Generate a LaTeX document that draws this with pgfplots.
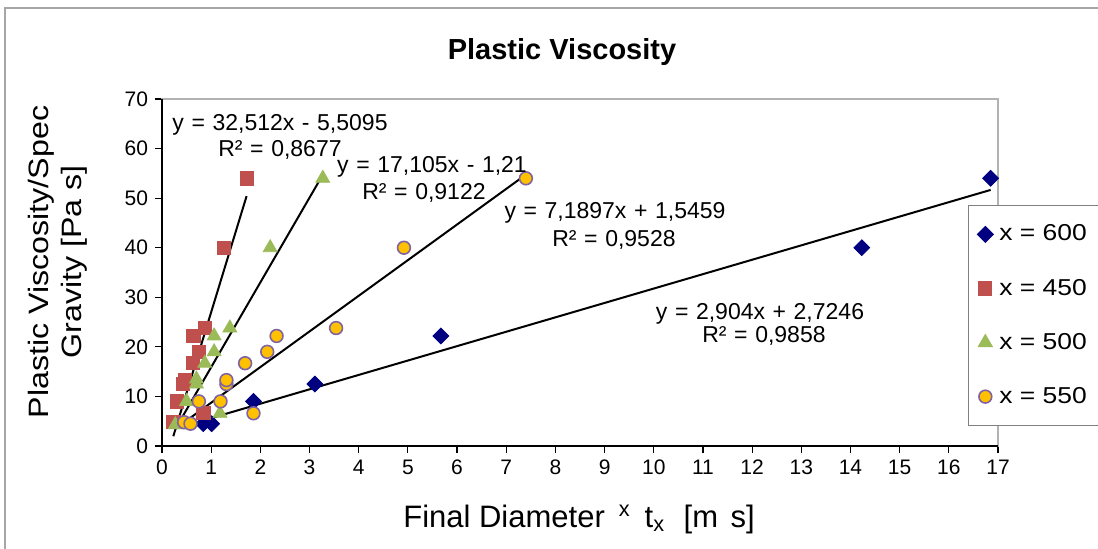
\documentclass[border=0pt]{standalone}
\usepackage{fontspec}
\setmainfont{Liberation Sans}
\newfontfamily\widefont[FakeStretch=1.15]{Liberation Sans}
\newfontfamily\legfont[FakeStretch=1.15]{Liberation Sans}
\usepackage{pgfplots}
\pgfplotsset{compat=1.18}

\definecolor{sixh}{RGB}{0,0,128}
\definecolor{fourfifty}{HTML}{C0504D}
\definecolor{fivehund}{HTML}{9BBB59}
\definecolor{fivefifty}{HTML}{FFC000}
\definecolor{ringpurple}{HTML}{8064A2}

% trendline label font: slightly wider spaces like the original
\newcommand\tlfont{\fontsize{11.5}{13}\selectfont\spaceskip=0.33em plus 0.1em\relax}

\begin{document}
\begin{tikzpicture}
\begin{axis}[
    at={(0pt,0pt)}, anchor=south west,
    scale only axis,
    width=418pt, height=173.5pt,
    xmin=0, xmax=17, ymin=0, ymax=70,
    xtick={0,1,...,17}, ytick={0,10,...,70},
    tick pos=left, tick align=outside,
    major tick length=3.5pt,
    tick style={black, line width=0.6pt},
    axis line style={draw=gray!60, line width=1pt},
    ticklabel style={font=\fontsize{10.5}{12}\selectfont},
    /pgf/number format/assume math mode=true,
    legend cell align=left,
    legend style={at={(0.964,0.6945)}, anchor=north west, draw=gray,
        line width=0.5pt, font=\legfont\fontsize{11.5}{13}\selectfont,
        row sep=14.5pt, column sep=1.5pt, inner xsep=4.5pt, inner ysep=8.2pt,
        nodes={inner sep=1.5pt}},
    legend image code/.code={\draw[#1, only marks] plot coordinates {(0pt,0pt)};},
    clip=false,
]
% x = 600
\addplot[only marks, mark=square*, mark size=2.8pt,
    mark options={rotate=45, draw=sixh, fill=sixh}] coordinates {
    (0.84,4.5) (1.01,4.5) (1.86,9.0) (3.11,12.5) (5.67,22.2) (14.23,40.0) (16.85,54.0)
};
\addlegendentry{x = 600}
% x = 450
\addplot[only marks, mark=square*, mark size=3.3pt,
    mark options={draw=fourfifty, fill=fourfifty}] coordinates {
    (0.23,4.8) (0.31,9.0) (0.84,6.6) (0.43,12.5) (0.47,13.3) (0.63,16.7)
    (0.75,19.0) (0.64,22.2) (0.88,23.8) (1.26,40.0) (1.72,54.0)
};
\addlegendentry{x = 450}
% x = 500
\addplot[only marks, mark=triangle*, mark size=4pt,
    mark options={draw=fivehund, fill=fivehund}] coordinates {
    (0.27,4.3) (0.40,4.3) (0.50,9.0) (1.18,6.6) (0.70,12.5) (0.70,13.5)
    (0.87,16.7) (1.06,19.0) (1.06,22.2) (1.38,23.8) (2.20,40.0) (3.27,54.0)
};
\addlegendentry{x = 500}
% x = 550
\addplot[only marks, mark=*, mark size=3.2pt,
    mark options={draw=ringpurple, fill=fivefifty, line width=0.8pt}] coordinates {
    (0.45,4.8) (0.58,4.5) (0.75,9.0) (1.19,9.0) (1.86,6.6) (1.31,12.5) (1.31,13.3)
    (1.69,16.7) (2.14,19.0) (2.33,22.2) (3.54,23.8) (4.92,40.0) (7.40,54.0)
};
\addlegendentry{x = 550}

% linear trendlines (end points from the fitted equations)
\addplot[black, line width=1pt, forget plot] coordinates {(0.23,1.97) (1.72,50.41)};
\addplot[black, line width=1pt, forget plot] coordinates {(0.27,3.41) (3.27,54.72)};
\addplot[black, line width=1pt, forget plot] coordinates {(0.45,4.78) (7.40,54.75)};
\addplot[black, line width=1pt, forget plot] coordinates {(0.84,5.16) (16.85,51.66)};
\end{axis}

% black left and bottom axis lines
\draw[black, line width=1pt] (0pt,173.5pt) -- (0pt,0pt) -- (418pt,0pt);

% trendline equations
\node[anchor=base, font=\tlfont] at (59pt,158pt) {y = 32,512x - 5,5095};
\node[anchor=base, font=\tlfont] at (59pt,145pt) {R² = 0,8677};
\node[anchor=base, font=\tlfont] at (135pt,137pt) {y = 17,105x - 1,21};
\node[anchor=base, font=\tlfont] at (131pt,123.5pt) {R² = 0,9122};
\node[anchor=base, font=\tlfont] at (226.5pt,114pt) {y = 7,1897x + 1,5459};
\node[anchor=base, font=\tlfont] at (226pt,100pt) {R² = 0,9528};
\node[anchor=base, font=\tlfont] at (299pt,63.5pt) {y = 2,904x + 2,7246};
\node[anchor=base, font=\tlfont] at (301pt,52pt) {R² = 0,9858};

% titles
\node[anchor=base] at (200pt,193.5pt) {\fontsize{14.5}{17}\selectfont\bfseries Plastic Viscosity};
\node[anchor=base] at (208.5pt,-40.5pt) {\fontsize{15.5}{18}\selectfont Final Diameter\hspace{0.45em}\textsuperscript{x}\hspace{0.45em}t\textsubscript{x}\hspace{0.6em}[m\hspace{0.4em}s]};
\node[rotate=90, align=center, font=\widefont\fontsize{14}{16.5}\selectfont] at (-52pt,92pt) {Plastic Viscosity/Spec\\Gravity [Pa s]};

% chart area frame (only top and left edges fall inside the picture)
\draw[gray!70, line width=0.8pt] (-78.5pt,-70pt) -- (-78.5pt,219pt) -- (490pt,219pt);

\pgfresetboundingbox
\path[use as bounding box] (-81pt,-51pt) rectangle (468pt,223pt);
\end{tikzpicture}
\end{document}
